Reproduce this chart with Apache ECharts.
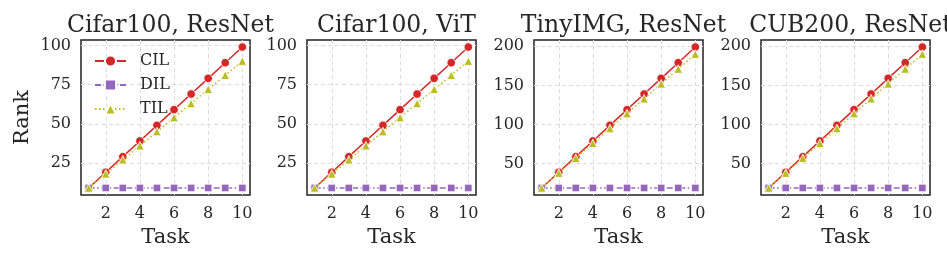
<!DOCTYPE html>
<html>
<head>
<meta charset="utf-8">
<script src="https://cdn.jsdelivr.net/npm/echarts@6/dist/echarts.min.js"></script>
<style>html,body{margin:0;padding:0;background:#fff}#c{width:947px;height:261px}</style>
</head>
<body>
<div id="c"></div>
<script>
const tasks = [1, 2, 3, 4, 5, 6, 7, 8, 9, 10];
const panelTitles = ['Cifar100, ResNet', 'Cifar100, ViT', 'TinyIMG, ResNet', 'CUB200, ResNet'];
const cilCifarResNet = [9, 19, 29, 39, 49, 59, 69, 79, 89, 99];
const dilCifarResNet = [9, 9, 9, 9, 9, 9, 9, 9, 9, 9];
const tilCifarResNet = [9, 18, 27, 36, 45, 54, 63, 72, 81, 90];
const cilCifarViT = [9, 19, 29, 39, 49, 59, 69, 79, 89, 99];
const dilCifarViT = [9, 9, 9, 9, 9, 9, 9, 9, 9, 9];
const tilCifarViT = [9, 18, 27, 36, 45, 54, 63, 72, 81, 90];
const cilTiny = [19, 39, 59, 79, 99, 119, 139, 159, 179, 199];
const dilTiny = [19, 19, 19, 19, 19, 19, 19, 19, 19, 19];
const tilTiny = [19, 38, 57, 76, 95, 114, 133, 152, 171, 190];
const cilCub = [19, 39, 59, 79, 99, 119, 139, 159, 179, 199];
const dilCub = [19, 19, 19, 19, 19, 19, 19, 19, 19, 19];
const tilCub = [19, 38, 57, 76, 95, 114, 133, 152, 171, 190];
const xTicks = [2, 4, 6, 8, 10];
const yTicksSmall = [25, 50, 75, 100];
const yTicksLarge = [50, 100, 150, 200];

const panels = [
  {cil: cilCifarResNet, dil: dilCifarResNet, til: tilCifarResNet, yt: yTicksSmall},
  {cil: cilCifarViT, dil: dilCifarViT, til: tilCifarViT, yt: yTicksSmall},
  {cil: cilTiny, dil: dilTiny, til: tilTiny, yt: yTicksLarge},
  {cil: cilCub, dil: dilCub, til: tilCub, yt: yTicksLarge}
];

const FONT = 'DejaVu Serif';
const TXT = '#262626';
const lefts = [81, 307, 534, 761];
const W = 169, TOP = 40, H = 155;

function pad(arrs) {
  let lo = Infinity, hi = -Infinity;
  arrs.forEach(a => a.forEach(v => { lo = Math.min(lo, v); hi = Math.max(hi, v); }));
  const m = (hi - lo) * 0.05;
  return [lo - m, hi + m];
}

const grids = [], xAxes = [], yAxes = [], series = [], titles = [];
panels.forEach((p, i) => {
  grids.push({left: lefts[i], top: TOP, width: W, height: H, show: true, borderColor: '#222222', borderWidth: 1.5, backgroundColor: '#fff', z: 0});
  titles.push({text: panelTitles[i], left: lefts[i] + W / 2, top: 9, textAlign: 'center',
    textStyle: {fontFamily: FONT, fontSize: 23.5, fontWeight: 'normal', color: TXT}});
  const xr = pad([tasks]);
  const yr = pad([p.cil, p.dil, p.til]);
  const grid = {show: true, lineStyle: {color: '#dddddd', type: [4, 3], width: 1}};
  xAxes.push({type: 'value', gridIndex: i, min: xr[0], max: xr[1],
    name: 'Task', nameLocation: 'middle', nameGap: 31,
    nameTextStyle: {fontFamily: FONT, fontSize: 21, color: TXT},
    axisLine: {show: false}, axisTick: {show: false, customValues: xTicks},
    axisLabel: {customValues: xTicks, fontFamily: FONT, fontSize: 16, color: TXT, margin: 11},
    splitLine: grid});
  yAxes.push({type: 'value', gridIndex: i, min: yr[0], max: yr[1],
    name: i === 0 ? 'Rank' : '', nameLocation: 'middle', nameGap: 48,
    nameTextStyle: {fontFamily: FONT, fontSize: 21, color: TXT},
    axisLine: {show: false}, axisTick: {show: false, customValues: p.yt},
    axisLabel: {customValues: p.yt, fontFamily: FONT, fontSize: 16, color: TXT, margin: 10},
    splitLine: grid});
  const mk = (arr) => tasks.map((t, k) => [t, arr[k]]);
  series.push({name: 'CIL', type: 'line', xAxisIndex: i, yAxisIndex: i, data: mk(p.cil),
    symbol: 'circle', symbolSize: 8.5, color: '#d62728',
    lineStyle: {width: 1.5, type: 'solid', color: '#d62728'},
    itemStyle: {color: '#d62728', borderColor: '#fff', borderWidth: 0.8}, z: 3});
  series.push({name: 'DIL', type: 'line', xAxisIndex: i, yAxisIndex: i, data: mk(p.dil),
    symbol: 'rect', symbolSize: 7.5, color: '#9467bd',
    lineStyle: {width: 1.5, type: [6, 2.5, 1.5, 2.5], color: '#9467bd'},
    itemStyle: {color: '#9467bd', borderColor: '#fff', borderWidth: 0.8}, z: 4});
  series.push({name: 'TIL', type: 'line', xAxisIndex: i, yAxisIndex: i, data: mk(p.til),
    symbol: 'triangle', symbolSize: 8.5, color: '#bcbd22',
    lineStyle: {width: 1.5, type: [1.5, 2.5], color: '#bcbd22'},
    itemStyle: {color: '#bcbd22', borderColor: '#fff', borderWidth: 0.8}, z: 5});
});

const chart = echarts.init(document.getElementById('c'), null, {renderer: 'canvas'});
chart.setOption({
  animation: false,
  backgroundColor: '#fff',
  title: titles,
  legend: {orient: 'vertical', left: 94, top: 53, padding: 0, itemWidth: 31, itemHeight: 14, itemGap: 8,
    data: ['CIL', 'DIL', 'TIL'],
    textStyle: {fontFamily: FONT, fontSize: 16, color: TXT, padding: [0, 0, 0, 9]}},
  grid: grids,
  xAxis: xAxes,
  yAxis: yAxes,
  series: series
});
</script>
</body>
</html>
